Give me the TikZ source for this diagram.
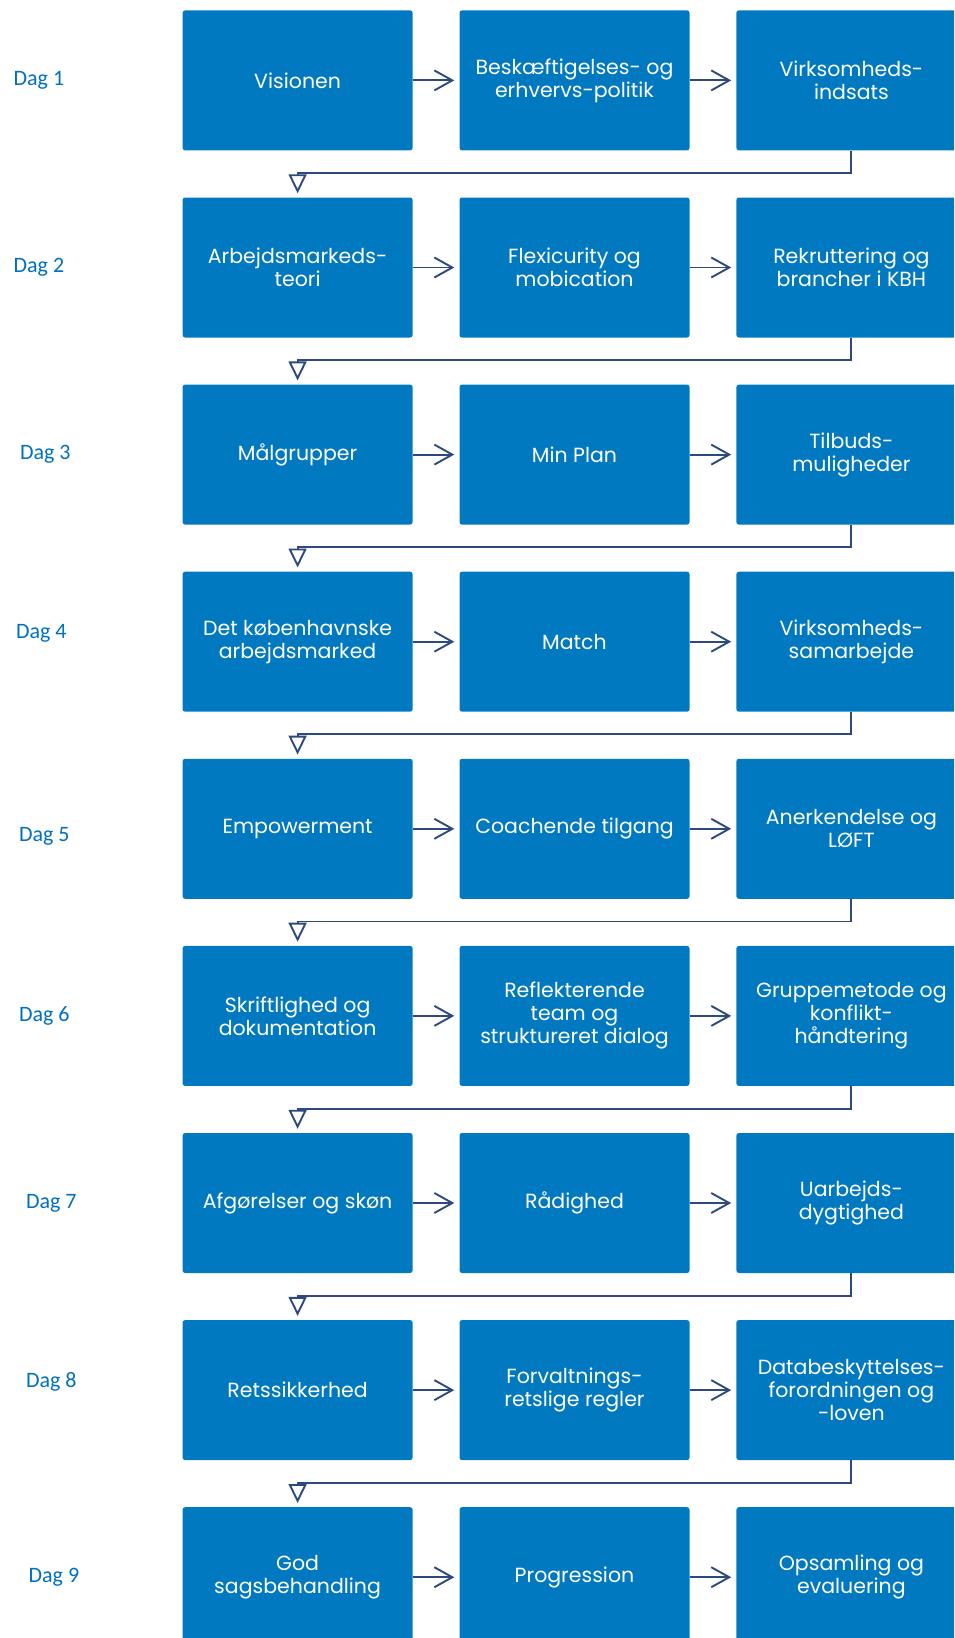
\documentclass[tikz,border=0pt]{standalone}
\usepackage{fontspec}
\setmainfont{Poppins}
\newfontfamily\dagfont{Carlito}
\usepackage{tikz}
\usetikzlibrary{arrows.meta, positioning}
\definecolor{kbhblue}{RGB}{0,121,193}
\definecolor{pilblue}{RGB}{44,74,124}
\definecolor{dagblue}{RGB}{0,112,192}
\tikzstyle{box} = [rectangle, rounded corners=2.5pt,
minimum width=230pt,
minimum height=140pt,
inner sep=0pt,
fill=kbhblue,
text=white,
align=center,
font=\fontsize{20.5}{23}\selectfont]
\tikzstyle{dag} = [inner sep=0pt,
text=dagblue,
font=\dagfont\fontsize{22}{26}\selectfont]
\tikzstyle{arrow} = [draw=pilblue, line width=1.9pt, shorten >=5pt,
-{Straight Barb[length=18pt, width=20pt]}]
\tikzstyle{turn} = [draw=pilblue, line width=1.9pt, shorten >=4pt,
-{Triangle[open, length=19pt, width=18pt]}]

\begin{document}
\begin{tikzpicture}[node distance=46.7pt and 46.5pt, x=1pt, y=1pt]
        \clip (0,0) rectangle (954,-1638);

        % --- Dag 1 ---
        \node (vision) [box] at (297.6,-80.4) {Visionen};
        \node (politik) [box, right=of vision] {Beskæftigelses- og\\erhvervs-politik};
        \node (indsats) [box, right=of politik] {Virksomheds-\\indsats};

        % --- Dag 2 ---
        \node (teori) [box, below=of vision] {Arbejdsmarkeds-\\teori};
        \node (flexi) [box, right=of teori] {Flexicurity og\\mobication};
        \node (rekrut) [box, right=of flexi] {Rekruttering og\\brancher i KBH};

        % --- Dag 3 ---
        \node (maal) [box, below=of teori] {Målgrupper};
        \node (plan) [box, right=of maal] {Min Plan};
        \node (tilbud) [box, right=of plan] {Tilbuds-\\muligheder};

        % --- Dag 4 ---
        \node (marked) [box, below=of maal] {Det københavnske\\arbejdsmarked};
        \node (match) [box, right=of marked] {Match};
        \node (samarb) [box, right=of match] {Virksomheds-\\samarbejde};

        % --- Dag 5 ---
        \node (empower) [box, below=of marked] {Empowerment};
        \node (coach) [box, right=of empower] {Coachende tilgang};
        \node (loeft) [box, right=of coach] {Anerkendelse og\\LØFT};

        % --- Dag 6 ---
        \node (skrift) [box, below=of empower] {Skriftlighed og\\dokumentation};
        \node (reflekt) [box, right=of skrift] {Reflekterende\\team og\\struktureret dialog};
        \node (gruppe) [box, right=of reflekt] {Gruppemetode og\\konflikt-\\håndtering};

        % --- Dag 7 ---
        \node (skoen) [box, below=of skrift] {Afgørelser og skøn};
        \node (raad) [box, right=of skoen] {Rådighed};
        \node (uarb) [box, right=of raad] {Uarbejds-\\dygtighed};

        % --- Dag 8 ---
        \node (retssik) [box, below=of skoen] {Retssikkerhed};
        \node (forvalt) [box, right=of retssik] {Forvaltnings-\\retslige regler};
        \node (databesk) [box, right=of forvalt] {Databeskyttelses-\\forordningen og\\-loven};

        % --- Dag 9 ---
        \node (sags) [box, below=of retssik] {God\\sagsbehandling};
        \node (progr) [box, right=of sags] {Progression};
        \node (opsaml) [box, right=of progr] {Opsamling og\\evaluering};

        % --- Dage ---
        \node (dag1) [dag, left=118pt of vision] {Dag 1};
        \node (dag2) [dag, left=118pt of teori] {Dag 2};
        \node (dag3) [dag, left=111.6pt of maal] {Dag 3};
        \node (dag4) [dag, left=115.6pt of marked, yshift=8pt] {Dag 4};
        \node (dag5) [dag, left=112.6pt of empower, yshift=-8pt] {Dag 5};
        \node (dag6) [dag, left=112.6pt of skrift] {Dag 6};
        \node (dag7) [dag, left=105.6pt of skoen] {Dag 7};
        \node (dag8) [dag, left=105.6pt of retssik, yshift=8pt] {Dag 8};
        \node (dag9) [dag, left=103pt of sags] {Dag 9};

        % --- Pile i hver række ---
        \draw [arrow] (vision) -- (politik);
        \draw [arrow] (politik) -- (indsats);
        \draw [arrow] (teori) -- (flexi);
        \draw [arrow] (flexi) -- (rekrut);
        \draw [arrow] (maal) -- (plan);
        \draw [arrow] (plan) -- (tilbud);
        \draw [arrow] (marked) -- (match);
        \draw [arrow] (match) -- (samarb);
        \draw [arrow] (empower) -- (coach);
        \draw [arrow] (coach) -- (loeft);
        \draw [arrow] (skrift) -- (reflekt);
        \draw [arrow] (reflekt) -- (gruppe);
        \draw [arrow] (skoen) -- (raad);
        \draw [arrow] (raad) -- (uarb);
        \draw [arrow] (retssik) -- (forvalt);
        \draw [arrow] (forvalt) -- (databesk);
        \draw [arrow] (sags) -- (progr);
        \draw [arrow] (progr) -- (opsaml);

        % --- Videre til næste dag ---
        \draw [turn] (indsats.south) -- ++(0,-22.5) -| (teori.north);
        \draw [turn] (rekrut.south) -- ++(0,-22.5) -| (maal.north);
        \draw [turn] (tilbud.south) -- ++(0,-22.5) -| (marked.north);
        \draw [turn] (samarb.south) -- ++(0,-22.5) -| (empower.north);
        \draw [turn] (loeft.south) -- ++(0,-22.5) -| (skrift.north);
        \draw [turn] (gruppe.south) -- ++(0,-22.5) -| (skoen.north);
        \draw [turn] (uarb.south) -- ++(0,-22.5) -| (retssik.north);
        \draw [turn] (databesk.south) -- ++(0,-22.5) -| (sags.north);

    \end{tikzpicture}
\end{document}
